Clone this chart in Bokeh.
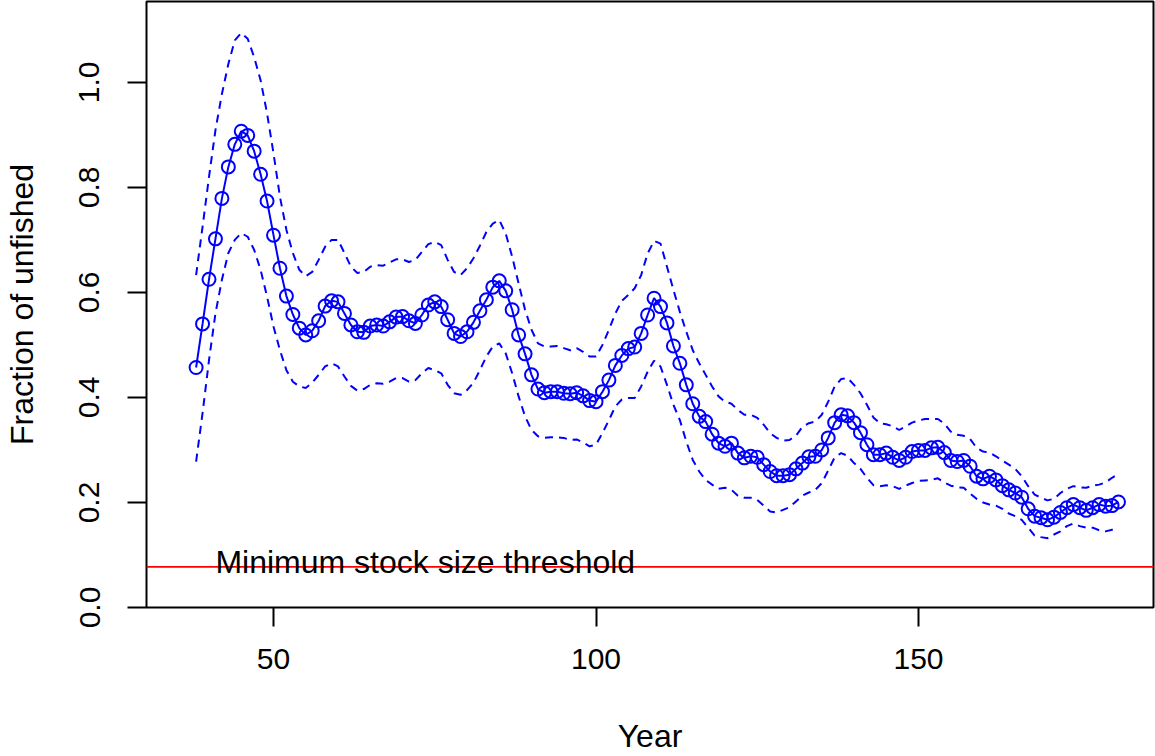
from bokeh.plotting import figure
from bokeh.models import Range1d, FixedTicker, PrintfTickFormatter, Span, Label
from bokeh.embed import file_html
from bokeh.resources import INLINE

years = list(range(38, 182))

fraction = [
    0.457, 0.540, 0.625, 0.702, 0.779, 0.839, 0.882, 0.907, 0.899, 0.869,
    0.825, 0.774, 0.709, 0.646, 0.593, 0.558, 0.532, 0.519, 0.527, 0.546,
    0.574, 0.584, 0.582, 0.560, 0.538, 0.525, 0.524, 0.536, 0.538, 0.536,
    0.544, 0.553, 0.554, 0.546, 0.541, 0.557, 0.576, 0.582, 0.573, 0.548,
    0.522, 0.516, 0.525, 0.543, 0.565, 0.586, 0.610, 0.622, 0.603, 0.567,
    0.519, 0.483, 0.443, 0.416, 0.409, 0.411, 0.411, 0.408, 0.407, 0.409,
    0.403, 0.394, 0.392, 0.411, 0.433, 0.461, 0.480, 0.493, 0.496, 0.522,
    0.557, 0.589, 0.573, 0.542, 0.498, 0.465, 0.424, 0.388, 0.364, 0.354,
    0.330, 0.313, 0.307, 0.313, 0.294, 0.285, 0.288, 0.286, 0.272, 0.259,
    0.251, 0.251, 0.253, 0.264, 0.275, 0.287, 0.288, 0.300, 0.323, 0.352,
    0.367, 0.365, 0.352, 0.333, 0.310, 0.291, 0.291, 0.294, 0.286, 0.280,
    0.286, 0.297, 0.299, 0.299, 0.304, 0.305, 0.295, 0.280, 0.278, 0.280,
    0.269, 0.250, 0.245, 0.250, 0.243, 0.232, 0.224, 0.218, 0.210, 0.188,
    0.174, 0.171, 0.167, 0.172, 0.181, 0.190, 0.196, 0.190, 0.185, 0.190,
    0.196, 0.193, 0.194, 0.201,
]

upper = [
    0.633, 0.725, 0.820, 0.909, 0.978, 1.035, 1.080, 1.094, 1.083, 1.048,
    1.004, 0.941, 0.865, 0.782, 0.719, 0.675, 0.643, 0.631, 0.639, 0.662,
    0.687, 0.700, 0.700, 0.675, 0.649, 0.637, 0.639, 0.649, 0.652, 0.651,
    0.657, 0.663, 0.663, 0.658, 0.662, 0.677, 0.692, 0.696, 0.690, 0.662,
    0.639, 0.633, 0.646, 0.665, 0.689, 0.715, 0.731, 0.738, 0.712, 0.668,
    0.617, 0.567, 0.529, 0.503, 0.497, 0.497, 0.498, 0.494, 0.490, 0.494,
    0.487, 0.478, 0.478, 0.500, 0.529, 0.560, 0.584, 0.595, 0.608, 0.633,
    0.674, 0.698, 0.693, 0.649, 0.605, 0.563, 0.525, 0.490, 0.465, 0.443,
    0.421, 0.402, 0.392, 0.388, 0.376, 0.367, 0.367, 0.361, 0.348, 0.332,
    0.323, 0.318, 0.319, 0.327, 0.344, 0.351, 0.354, 0.367, 0.392, 0.421,
    0.435, 0.437, 0.424, 0.408, 0.386, 0.362, 0.351, 0.349, 0.345, 0.338,
    0.345, 0.352, 0.356, 0.359, 0.359, 0.359, 0.350, 0.335, 0.329, 0.327,
    0.321, 0.304, 0.297, 0.295, 0.288, 0.280, 0.272, 0.264, 0.250, 0.231,
    0.215, 0.209, 0.204, 0.207, 0.218, 0.226, 0.231, 0.229, 0.228, 0.232,
    0.234, 0.238, 0.247, 0.254,
]

lower = [
    0.278, 0.370, 0.471, 0.560, 0.624, 0.675, 0.700, 0.713, 0.706, 0.681,
    0.643, 0.592, 0.535, 0.490, 0.452, 0.430, 0.421, 0.418, 0.428, 0.443,
    0.459, 0.465, 0.459, 0.440, 0.422, 0.413, 0.416, 0.424, 0.427, 0.426,
    0.430, 0.437, 0.437, 0.430, 0.433, 0.446, 0.456, 0.452, 0.446, 0.424,
    0.408, 0.405, 0.414, 0.428, 0.452, 0.478, 0.497, 0.503, 0.484, 0.446,
    0.402, 0.364, 0.338, 0.326, 0.323, 0.324, 0.324, 0.323, 0.319, 0.320,
    0.314, 0.307, 0.310, 0.332, 0.357, 0.383, 0.396, 0.399, 0.399, 0.421,
    0.449, 0.470, 0.459, 0.424, 0.386, 0.357, 0.316, 0.281, 0.259, 0.243,
    0.234, 0.226, 0.228, 0.224, 0.213, 0.209, 0.209, 0.205, 0.194, 0.183,
    0.181, 0.186, 0.191, 0.202, 0.213, 0.219, 0.224, 0.237, 0.261, 0.286,
    0.294, 0.289, 0.275, 0.264, 0.247, 0.233, 0.231, 0.233, 0.231, 0.226,
    0.232, 0.237, 0.241, 0.242, 0.243, 0.246, 0.238, 0.232, 0.229, 0.228,
    0.217, 0.207, 0.200, 0.196, 0.194, 0.188, 0.179, 0.174, 0.167, 0.152,
    0.137, 0.134, 0.132, 0.139, 0.145, 0.155, 0.160, 0.155, 0.152, 0.152,
    0.147, 0.145, 0.148, 0.148,
]

threshold = 0.0775
threshold_label = "Minimum stock size threshold"
x_title = "Year"
y_title = "Fraction of unfished"

x_ticks = [50, 100, 150]
y_ticks = [0.0, 0.2, 0.4, 0.6, 0.8, 1.0]

FONT = "Liberation Sans"
TICK_FS = "30px"
LABEL_FS = "32px"

X0, X1 = 30.31, 186.43
Y1 = 607 / 526

p = figure(width=1155, height=756, output_backend="svg", toolbar_location=None,
           x_range=Range1d(X0, X1), y_range=Range1d(0, Y1),
           min_border_left=146, min_border_right=2, min_border_top=1,
           min_border_bottom=148)
p.grid.visible = False
p.outline_line_color = "black"
p.outline_line_width = 2
p.background_fill_color = "white"
p.border_fill_color = "white"

for ax in (p.xaxis[0], p.yaxis[0]):
    ax.axis_line_color = None
    ax.major_tick_out = 19
    ax.major_tick_in = 0
    ax.major_tick_line_width = 2
    ax.major_tick_line_color = "black"
    ax.minor_tick_line_color = None
    ax.major_label_text_font = FONT
    ax.major_label_text_font_size = TICK_FS
    ax.major_label_text_color = "black"
    ax.axis_label_text_font = FONT
    ax.axis_label_text_font_size = LABEL_FS
    ax.axis_label_text_font_style = "normal"
    ax.axis_label_text_color = "black"

p.xaxis.ticker = FixedTicker(ticks=x_ticks)
p.yaxis.ticker = FixedTicker(ticks=y_ticks)
p.yaxis.formatter = PrintfTickFormatter(format="%.1f")
p.yaxis.major_label_orientation = "vertical"
p.xaxis.major_label_standoff = 22
p.yaxis.major_label_standoff = 28
p.xaxis.axis_label = x_title
p.yaxis.axis_label = y_title
p.xaxis.axis_label_standoff = 46
p.yaxis.axis_label_standoff = 37

p.line(years, upper, line_color="#0000FF", line_width=2, line_dash="8 6")
p.line(years, lower, line_color="#0000FF", line_width=2, line_dash="8 6")
p.line(years, fraction, line_color="#0000FF", line_width=2)
p.scatter(years, fraction, marker="circle", size=13, line_color="#0000FF",
          line_width=2, fill_alpha=0)

p.add_layout(Span(location=threshold, dimension="width", line_color="#FF0000",
                  line_width=1.8))
p.add_layout(Label(x=41.0, y=0.0865, text=threshold_label,
                   text_font=FONT, text_font_size=LABEL_FS, text_color="black",
                   text_align="left", text_baseline="alphabetic"))

open("out.html", "w").write(file_html(p, INLINE))
